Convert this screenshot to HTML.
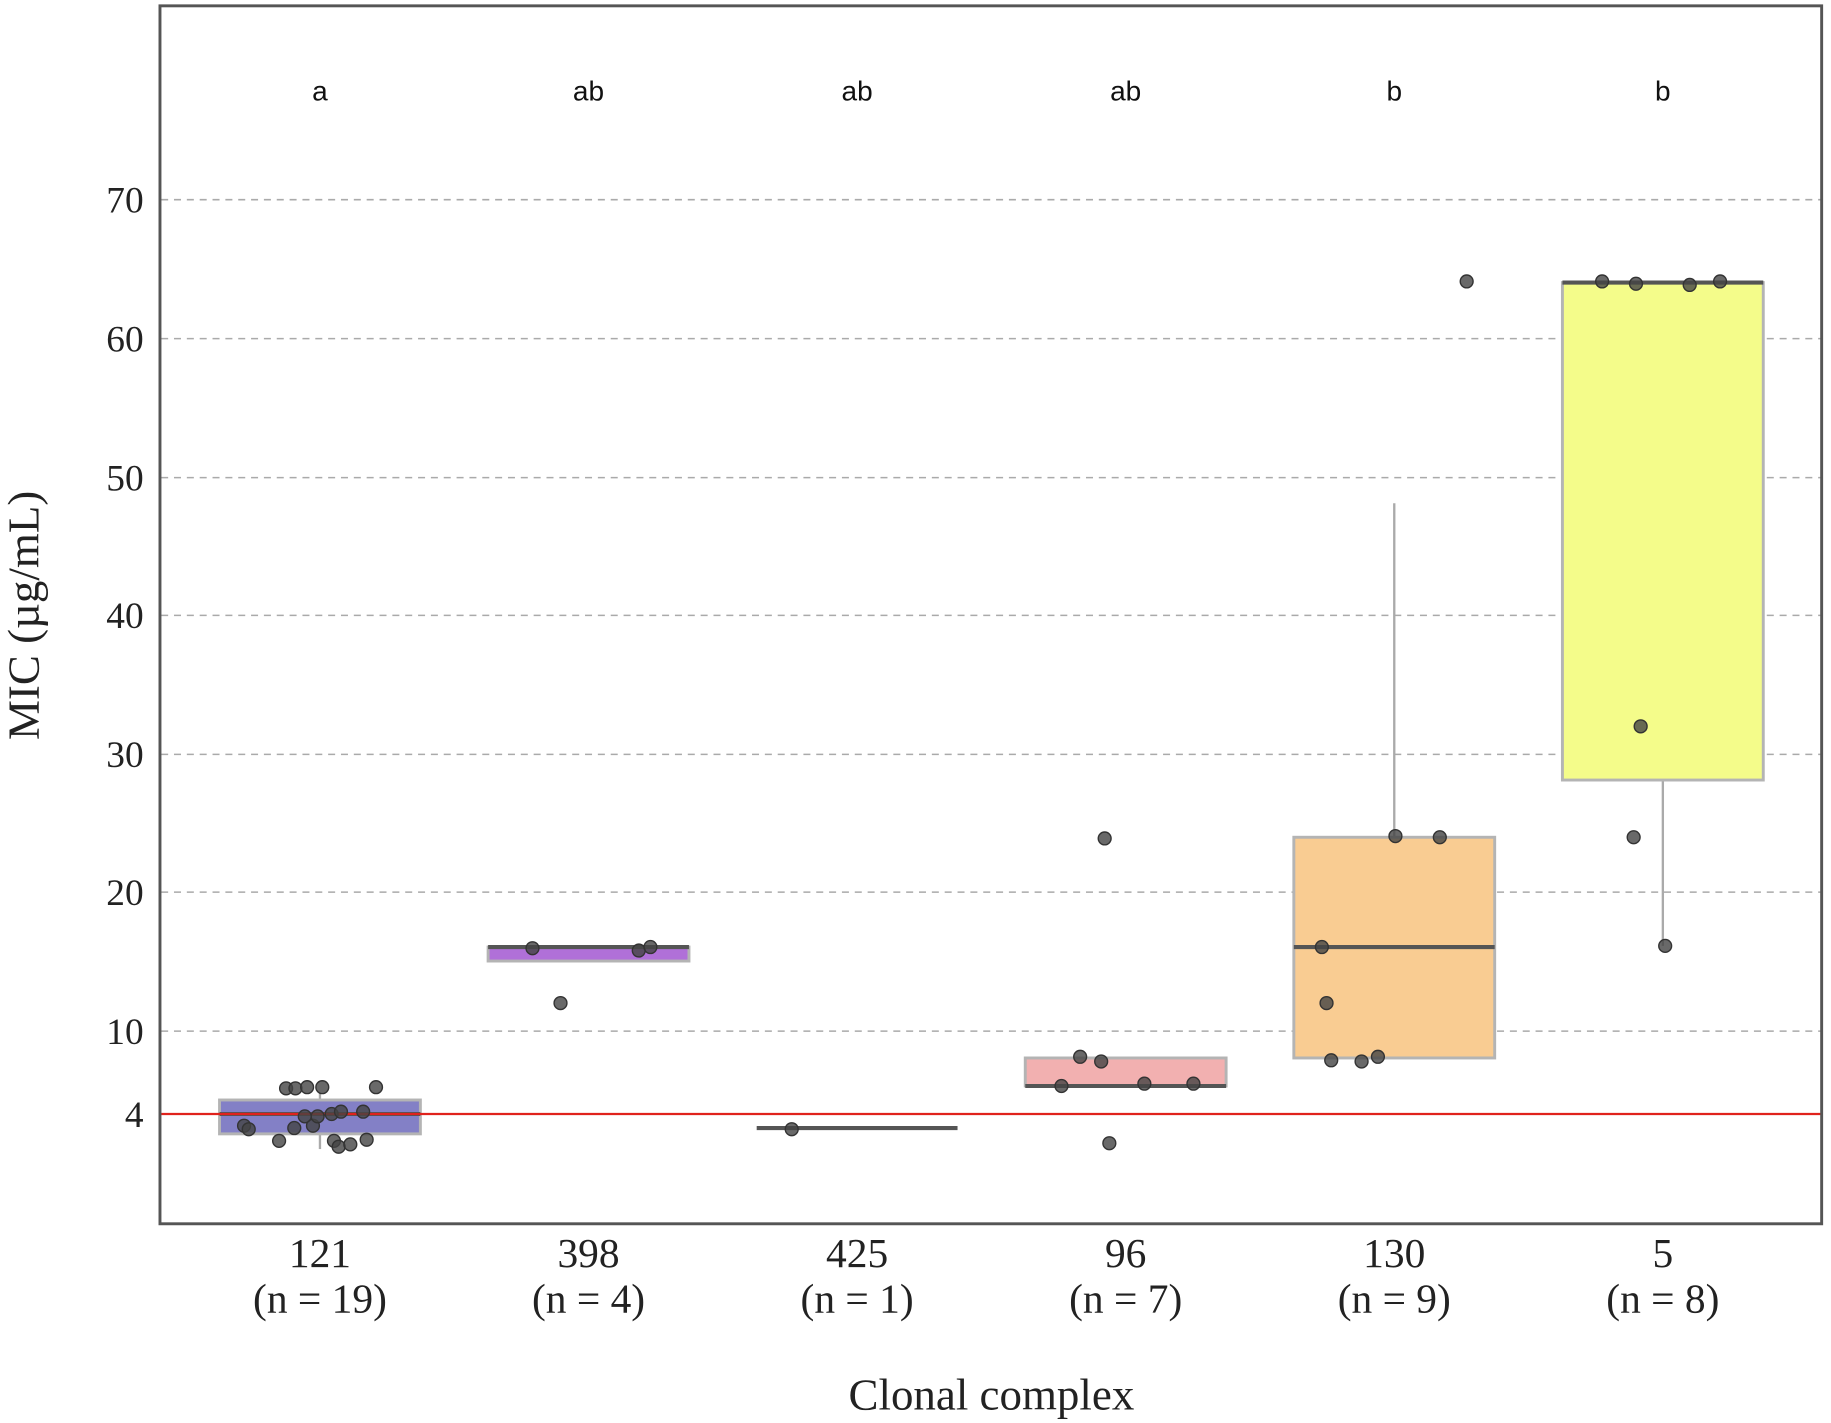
<!DOCTYPE html>
<html><head><style>html,body{margin:0;padding:0;background:#fff;}svg{display:block;}</style></head>
<body>
<svg width="1831" height="1423" viewBox="0 0 1568 1218.6" preserveAspectRatio="none" xmlns="http://www.w3.org/2000/svg">
<rect x="0" y="0" width="1568" height="1219" fill="#fff"/>
<g stroke="#aaa" stroke-width="1.3" stroke-dasharray="6,5">
<line x1="138" x2="1559" y1="171" y2="171"/><line x1="138" x2="1559" y1="290" y2="290"/>
<line x1="138" x2="1559" y1="409" y2="409"/><line x1="138" x2="1559" y1="527" y2="527"/>
<line x1="138" x2="1559" y1="646" y2="646"/><line x1="138" x2="1559" y1="764" y2="764"/>
<line x1="138" x2="1559" y1="883" y2="883"/>
</g>
<g stroke="#aaa" stroke-width="2">
<line x1="274" x2="274" y1="936" y2="984"/>
<line x1="1194" x2="1194" y1="431" y2="717"/>
<line x1="1424" x2="1424" y1="668" y2="810"/>
</g>
<g stroke="#b4b4b4" stroke-width="2.5">
<rect x="188" y="942" width="172" height="29" fill="#8380c6"/>
<rect x="418" y="811" width="172" height="12" fill="#b070d8"/>
<rect x="878" y="906" width="172" height="24" fill="#f2b0b0"/>
<rect x="1108" y="717" width="172" height="189" fill="#f9cc92"/>
<rect x="1338" y="242" width="172" height="426" fill="#f4fc8a"/>
</g>
<g stroke="#555" stroke-width="3.5">
<line x1="188" x2="360" y1="954" y2="954"/>
<line x1="418" x2="590" y1="811" y2="811"/>
<line x1="648" x2="820" y1="966" y2="966"/>
<line x1="878" x2="1050" y1="930" y2="930"/>
<line x1="1108" x2="1280" y1="811" y2="811"/>
<line x1="1338" x2="1510" y1="242" y2="242"/>
</g>
<line x1="138" x2="1559" y1="954" y2="954" stroke="#e0221c" stroke-width="2"/>
<g fill="#444" fill-opacity="0.8" stroke="#333" stroke-width="1.2">
<circle cx="245" cy="932" r="5.5"/><circle cx="253" cy="932" r="5.5"/><circle cx="263" cy="931" r="5.5"/><circle cx="276" cy="931" r="5.5"/><circle cx="322" cy="931" r="5.5"/>
<circle cx="209" cy="964" r="5.5"/><circle cx="213" cy="967" r="5.5"/><circle cx="239" cy="977" r="5.5"/><circle cx="252" cy="966" r="5.5"/><circle cx="268" cy="964" r="5.5"/>
<circle cx="261" cy="956" r="5.5"/><circle cx="272" cy="956" r="5.5"/><circle cx="284" cy="954" r="5.5"/><circle cx="292" cy="952" r="5.5"/><circle cx="311" cy="952" r="5.5"/>
<circle cx="286" cy="977" r="5.5"/><circle cx="290" cy="982" r="5.5"/><circle cx="300" cy="980" r="5.5"/><circle cx="314" cy="976" r="5.5"/>
<circle cx="456" cy="812" r="5.5"/><circle cx="547" cy="814" r="5.5"/><circle cx="557" cy="811" r="5.5"/><circle cx="480" cy="859" r="5.5"/>
<circle cx="678" cy="967" r="5.5"/>
<circle cx="946" cy="718" r="5.5"/><circle cx="925" cy="905" r="5.5"/><circle cx="943" cy="909" r="5.5"/><circle cx="909" cy="930" r="5.5"/><circle cx="980" cy="928" r="5.5"/><circle cx="1022" cy="928" r="5.5"/><circle cx="950" cy="979" r="5.5"/>
<circle cx="1256" cy="241" r="5.5"/><circle cx="1195" cy="716" r="5.5"/><circle cx="1233" cy="717" r="5.5"/><circle cx="1132" cy="811" r="5.5"/><circle cx="1136" cy="859" r="5.5"/><circle cx="1140" cy="908" r="5.5"/><circle cx="1166" cy="909" r="5.5"/><circle cx="1180" cy="905" r="5.5"/>
<circle cx="1372" cy="241" r="5.5"/><circle cx="1401" cy="243" r="5.5"/><circle cx="1447" cy="244" r="5.5"/><circle cx="1473" cy="241" r="5.5"/><circle cx="1405" cy="622" r="5.5"/><circle cx="1399" cy="717" r="5.5"/><circle cx="1426" cy="810" r="5.5"/>
</g>
<rect x="137" y="5" width="1423" height="1043" fill="none" stroke="#555" stroke-width="2.5"/>
<g font-family="'Liberation Serif',serif" font-size="32" fill="#222" text-anchor="end">
<text x="123" y="182">70</text><text x="123" y="301">60</text><text x="123" y="420">50</text>
<text x="123" y="538">40</text><text x="123" y="657">30</text><text x="123" y="775">20</text>
<text x="123" y="894">10</text><text x="123" y="965">4</text>
</g>
<g font-family="'Liberation Serif',serif" font-size="35.5" fill="#222" text-anchor="middle">
<text x="274" y="1085">121</text><text x="274" y="1124">(n = 19)</text>
<text x="504" y="1085">398</text><text x="504" y="1124">(n = 4)</text>
<text x="734" y="1085">425</text><text x="734" y="1124">(n = 1)</text>
<text x="964" y="1085">96</text><text x="964" y="1124">(n = 7)</text>
<text x="1194" y="1085">130</text><text x="1194" y="1124">(n = 9)</text>
<text x="1424" y="1085">5</text><text x="1424" y="1124">(n = 8)</text>
<text x="849" y="1207" font-size="38.5">Clonal complex</text>
<text transform="translate(33,527) rotate(-90)" font-size="38.5">MIC (µg/mL)</text>
</g>
<g font-family="'Liberation Sans',sans-serif" font-size="24" fill="#111" text-anchor="middle">
<text x="274" y="86">a</text><text x="504" y="86">ab</text><text x="734" y="86">ab</text>
<text x="964" y="86">ab</text><text x="1194" y="86">b</text><text x="1424" y="86">b</text>
</g>
</svg>
</body></html>
